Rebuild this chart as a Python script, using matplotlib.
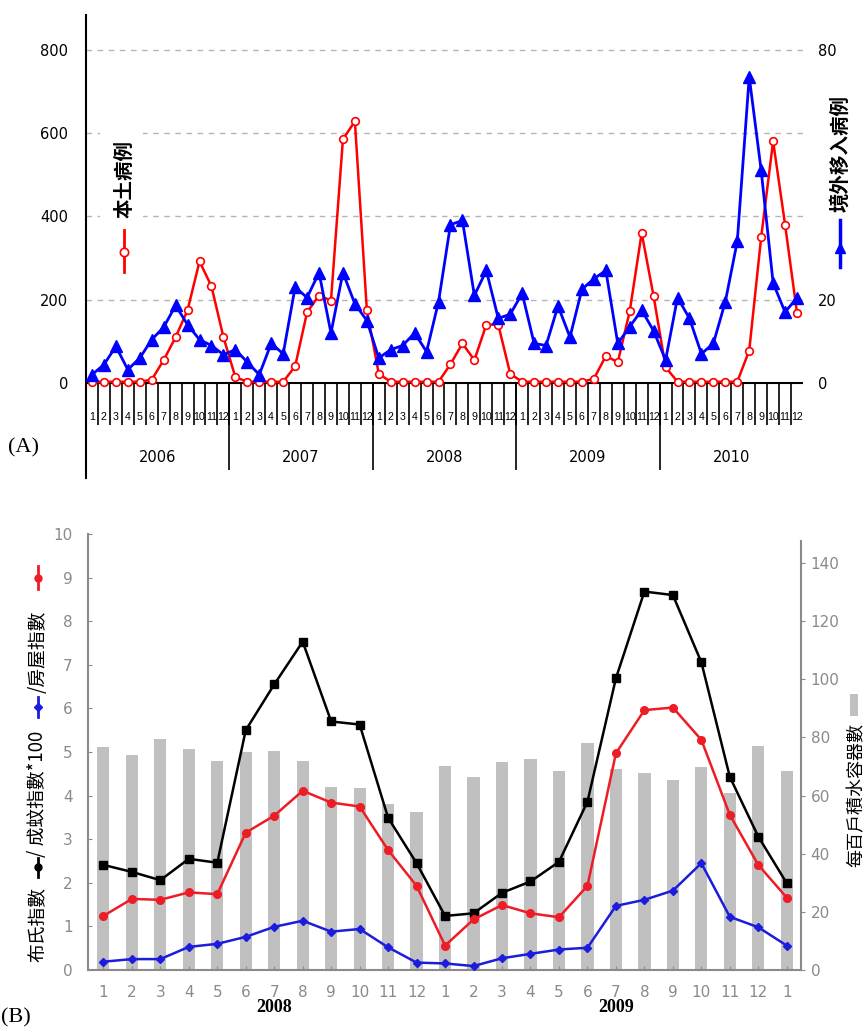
import numpy as np
import matplotlib
matplotlib.use('Agg')
import matplotlib.pyplot as plt
from matplotlib.lines import Line2D
from matplotlib.patches import Rectangle

W, H = 865, 1034

# ---- panel (A): monthly dengue cases 2006-2010
years_a = ['2006', '2007', '2008', '2009', '2010']
month_labels_a = [str(m) for m in range(1, 13)] * 5
local_cases = [3, 3, 3, 3, 3, 8, 55, 110, 175, 292, 232, 110,
               14, 3, 3, 3, 3, 40, 170, 210, 198, 585, 628, 176,
               22, 3, 3, 3, 3, 3, 45, 95, 55, 140, 140, 22,
               3, 3, 3, 3, 3, 3, 10, 65, 50, 172, 360, 208,
               38, 3, 3, 3, 3, 3, 3, 78, 350, 580, 380, 168]
imported_cases = [2, 4.4, 8.8, 3.2, 6, 10.4, 13.4, 18.6, 14, 10.4, 9, 6.8,
                  8, 5, 2, 9.5, 7, 23, 20.5, 26.5, 12, 26.5, 19, 15,
                  6, 8, 9, 12, 7.5, 19.5, 38, 39, 21, 27, 15.5, 16.5,
                  21.5, 9.5, 9, 18.5, 11, 22.5, 25, 27, 9.5, 13.5, 17.5, 12.5,
                  5.5, 20.5, 15.5, 7, 9.5, 19.5, 34, 73.5, 51, 24, 17, 20.5]

# ---- panel (B): vector indices 2008-01 .. 2010-01
month_labels_b = [str(m) for m in range(1, 13)] * 2 + ['1']
years_b = ['2008', '2009']
breteau = [2.41, 2.25, 2.06, 2.55, 2.46, 5.5, 6.55, 7.53, 5.7, 5.63, 3.49, 2.45,
           1.24, 1.3, 1.77, 2.03, 2.48, 3.86, 6.69, 8.68, 8.6, 7.06, 4.43, 3.06,
           1.99]
house = [1.24, 1.63, 1.61, 1.78, 1.74, 3.15, 3.54, 4.11, 3.84, 3.75, 2.75, 1.93,
         0.56, 1.16, 1.49, 1.3, 1.21, 1.93, 4.97, 5.96, 6.02, 5.28, 3.56, 2.41,
         1.66]
adult_x100 = [0.19, 0.25, 0.25, 0.53, 0.6, 0.76, 0.99, 1.13, 0.88, 0.94, 0.52, 0.17,
              0.15, 0.09, 0.27, 0.37, 0.47, 0.51, 1.47, 1.61, 1.82, 2.45, 1.22, 0.98,
              0.56]
containers = [76.8, 74, 79.6, 76, 72, 75, 75.5, 72, 63, 62.6, 57, 54.5,
              70.2, 66.5, 71.6, 72.5, 68.6, 78, 69.3, 67.9, 65.2, 70, 60.8, 77.1,
              68.3]

cjk_sc = ['Noto Sans CJK SC', 'DejaVu Sans']
cjk_tc = ['Noto Sans CJK TC', 'DejaVu Sans']


def fx(x):
    return x / W


def fy(y):
    return 1 - y / H


def rect(l, t, r, b):
    return [fx(l), fy(b), (r - l) / W, (b - t) / H]


fig = plt.figure(figsize=(W / 100, H / 100), dpi=100)

# ================= (A) =================
ax = fig.add_axes(rect(86, 15, 803, 478))
ax2 = ax.twinx()
n = len(local_cases)
xa = np.arange(n)
ax.set_xlim(-0.5, n - 0.5)
ax.set_ylim(-228, 883.2)
ax2.set_ylim(-22.8, 88.32)

for s in ['top', 'right', 'bottom']:
    ax.spines[s].set_visible(False)
    ax2.spines[s].set_visible(False)
ax2.spines['left'].set_visible(False)
ax.spines['left'].set_linewidth(1.5)
ax2.spines['right'].set_linewidth(1.5)
ax2.spines['right'].set_bounds(-20.9, 88.32)

ax.set_xticks([])
ax.set_yticks([0, 200, 400, 600, 800])
# 40 and 60 sit under the axis title in the original
ax2.set_yticks([0, 20, 80])
ax.tick_params(axis='y', length=0, pad=13, labelsize=10.5)
ax2.tick_params(axis='y', length=0, pad=11, labelsize=10.5)

for v in [200, 400, 600, 800]:
    ax.axhline(v, color='#b4b4b4', lw=1, ls=(0, (4, 4)), zorder=0)
ax.axhline(0, color='black', lw=1.5)
ax.vlines(np.arange(0.5, n - 1, 1), -101, 0, color='black', lw=1.2)
ax.vlines(np.arange(11.5, n - 1, 12), -209, 0, color='black', lw=1.2)

for i, lab in enumerate(month_labels_a):
    ax.text(i, -82, lab, ha='center', va='center', fontsize=7.7,
            family='Liberation Sans')
for k, yr in enumerate(years_a):
    ax.text(12 * k + 5.5, -180, yr, ha='center', va='center', fontsize=10.5)

ax.plot(xa, local_cases, color='#ff0000', lw=1.8, marker='o', ms=5.5,
        mfc='white', mec='#ff0000', mew=1.2, zorder=3)
ax2.plot(xa, imported_cases, color='#0000ff', lw=2, marker='^', ms=8,
         mfc='#0000ff', mec='#0000ff', zorder=3)

# legend boxes of panel A
fig.add_artist(Rectangle((fx(100), fy(282)), 43 / W, 164 / H, transform=fig.transFigure,
                         fc='white', ec='none', zorder=5))
fig.text(fx(125), fy(179), '本土病例', rotation=90, ha='center', va='center',
         fontsize=14, fontweight='bold', family=cjk_sc, zorder=6)
fig.add_artist(Line2D([fx(124)] * 2, [fy(230), fy(272)], color='#ff0000', lw=2, zorder=6))
fig.add_artist(Line2D([fx(124)], [fy(252)], marker='o', ms=6, mfc='white',
                      mec='#ff0000', mew=1.2, zorder=7))
fig.text(fx(840), fy(154), '境外移入病例', rotation=90, ha='center', va='center',
         fontsize=14, fontweight='bold', family=cjk_sc, zorder=6)
fig.add_artist(Line2D([fx(840)] * 2, [fy(220), fy(267)], color='#0000ff', lw=2.5, zorder=6))
fig.add_artist(Line2D([fx(840)], [fy(248)], marker='^', ms=7, color='#0000ff', zorder=7))

fig.text(fx(8), fy(448), '(A)', ha='left', va='center', fontsize=16, family='Liberation Serif')

# ================= (B) =================
grey = '#8a8a8a'
bx = fig.add_axes(rect(88, 534, 801, 970))
bbar = bx.twinx()
bx.set_zorder(bbar.get_zorder() + 1)
bx.patch.set_visible(False)
xb = np.arange(len(breteau))
bx.set_xlim(-0.54, 24.5)
bx.set_ylim(0, 10)
bbar.set_ylim(0, 150)

bbar.bar(xb, containers, width=0.43, color='#c0c0c0', zorder=1)
bx.plot(xb, breteau, color='black', lw=1.8, marker='s', ms=6, zorder=3)
bx.plot(xb, house, color='#ee1c25', lw=1.8, marker='o', ms=5.5, zorder=4)
bx.plot(xb, adult_x100, color='#1c1cdc', lw=1.8, marker='D', ms=4.5, zorder=5)

for a in (bx, bbar):
    a.spines['top'].set_visible(False)
    for s in ['left', 'right', 'bottom']:
        a.spines[s].set_color(grey)
        a.spines[s].set_linewidth(1.5)
bx.spines['right'].set_visible(False)
bbar.spines['left'].set_visible(False)
bbar.spines['bottom'].set_visible(False)
bbar.spines['right'].set_bounds(0, 147.6)

bx.set_xticks(xb)
bx.set_xticklabels(month_labels_b)
bx.set_yticks(range(0, 11))
bbar.set_yticks(range(0, 141, 20))
bx.tick_params(axis='x', direction='in', length=3, color=grey, labelcolor=grey,
               labelsize=11, pad=11)
bx.tick_params(axis='y', direction='in', length=3, color=grey, labelcolor=grey,
               labelsize=11, pad=11)
bbar.tick_params(axis='y', direction='out', length=3, color=grey, labelcolor=grey,
                 labelsize=11, pad=4)

for k, yr in enumerate(years_b):
    bx.text(12 * k + 6, -(1008 - 970) / 436, yr, transform=bx.get_xaxis_transform(),
            ha='center', va='center', fontsize=13, fontweight='bold',
            family='Liberation Serif')

# left label of panel B (text pieces with line markers)
lx = fx(38)
fig.text(lx, fy(962), '布氏指數', rotation=90, ha='center', va='bottom',
         fontsize=13.5, family=cjk_tc)
fig.add_artist(Line2D([lx] * 2, [fy(877), fy(858)], color='black', lw=2))
fig.add_artist(Line2D([lx], [fy(867)], marker='o', ms=5, color='black'))
fig.text(lx, fy(857), '/ 成蚊指數*100', rotation=90, ha='center', va='bottom',
         fontsize=13.5, family=cjk_tc)
fig.add_artist(Line2D([lx] * 2, [fy(717), fy(697)], color='#1c1cdc', lw=2))
fig.add_artist(Line2D([lx], [fy(707)], marker='D', ms=4.5, color='#1c1cdc'))
fig.text(lx, fy(693), '/房屋指數', rotation=90, ha='center', va='bottom',
         fontsize=13.5, family=cjk_tc)
fig.add_artist(Line2D([lx] * 2, [fy(589), fy(566)], color='#ee1c25', lw=2))
fig.add_artist(Line2D([lx], [fy(578)], marker='o', ms=5, color='#ee1c25'))

# right label of panel B
fig.text(fx(857), fy(795), '每百戶積水容器數', rotation=90, ha='center', va='center',
         fontsize=13, family=cjk_tc)
fig.add_artist(Rectangle((fx(850), fy(716)), 8 / W, 22 / H, transform=fig.transFigure,
                         fc='#c0c0c0', ec='none'))

fig.text(fx(1), fy(1018), '(B)', ha='left', va='center', fontsize=16,
         family='Liberation Serif')

fig.savefig('out.png', dpi=100)
